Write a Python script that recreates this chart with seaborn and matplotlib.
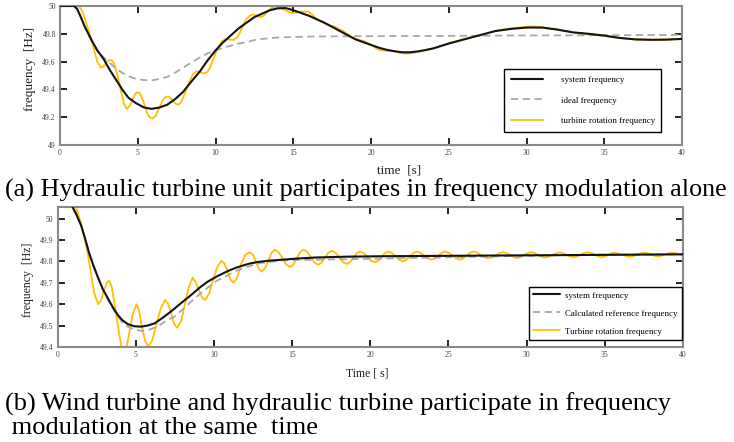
import matplotlib
matplotlib.use("Agg")
import matplotlib.pyplot as plt
import seaborn as sns
from matplotlib.ticker import FuncFormatter

# ---- panel (a): hydraulic turbine alone ----
t_sys_a = [0, 0.9, 1.1, 1.3, 1.6, 2.0, 2.4, 2.8, 3.2, 3.6, 4.0, 4.4, 4.9, 5.4, 5.9, 6.4, 6.9,
           7.4, 7.9, 8.4, 9.0, 9.5, 10.0, 10.5, 11.0, 11.5, 12.0, 12.5, 13.0, 13.5, 14.0, 14.5,
           15.0, 15.5, 16.0, 16.5, 17.0, 17.5, 18.0, 18.5, 19.0, 19.5, 20.0, 20.5, 21.0, 21.5,
           22.0, 22.5, 23.0, 23.5, 24.0, 25.0, 26.0, 27.0, 28.0, 29.0, 30.0, 31.0, 32.0, 33.0,
           34.0, 35.0, 36.0, 37.0, 38.0, 39.0, 40.0]
f_sys_a = [50, 50, 49.98, 49.93, 49.85, 49.76, 49.68, 49.62, 49.54, 49.47, 49.40, 49.34, 49.30,
           49.27, 49.26, 49.27, 49.29, 49.33, 49.38, 49.45, 49.53, 49.61, 49.68, 49.74, 49.79,
           49.84, 49.88, 49.92, 49.945, 49.97, 49.983, 49.985, 49.97, 49.95, 49.93, 49.905,
           49.88, 49.85, 49.82, 49.79, 49.76, 49.74, 49.72, 49.70, 49.685, 49.675, 49.667,
           49.667, 49.673, 49.683, 49.695, 49.73, 49.76, 49.79, 49.82, 49.835, 49.845, 49.845,
           49.83, 49.81, 49.80, 49.787, 49.77, 49.76, 49.757, 49.758, 49.763]

t_ideal_a = [0, 0.9, 1.1, 1.3, 1.6, 2.0, 2.4, 2.8, 3.2, 3.6, 4.0, 4.4, 4.9, 5.4, 5.9, 6.4, 6.9,
             7.4, 7.9, 8.4, 9.0, 9.5, 10.0, 10.5, 11.0, 11.5, 12.0, 12.5, 13.0, 14.0, 15.0,
             16.0, 18.0, 20.0, 25.0, 30.0, 35.0, 40.0]
f_ideal_a = [50, 50, 49.98, 49.93, 49.85, 49.76, 49.68, 49.63, 49.59, 49.55, 49.52, 49.495,
             49.475, 49.467, 49.465, 49.475, 49.49, 49.52, 49.555, 49.59, 49.63, 49.66, 49.68,
             49.70, 49.715, 49.73, 49.74, 49.755, 49.763, 49.773, 49.777, 49.78, 49.782,
             49.783, 49.785, 49.788, 49.79, 49.792]

t_turb_a = [0, 0.5, 1.0, 1.2, 1.4, 1.6, 1.8, 2.0, 2.2, 2.4, 2.62, 2.8, 3.0, 3.15, 3.32, 3.5, 3.7,
            3.9, 4.1, 4.29, 4.5, 4.75, 4.9, 5.04, 5.2, 5.4, 5.6, 5.8, 5.96, 6.15, 6.4, 6.6, 6.8,
            6.97, 7.15, 7.4, 7.61, 7.8, 8.05, 8.3, 8.55, 8.79, 9.0, 9.2, 9.43, 9.65, 9.9, 10.15,
            10.4, 10.6, 10.85, 11.15, 11.4, 11.7, 11.95, 12.2, 12.43, 12.65, 12.9, 13.1, 13.4,
            13.65, 13.9, 14.15, 14.45, 14.75, 15.0, 15.3, 15.6, 15.97, 16.2, 16.5, 16.8, 17.2,
            17.7, 18.2, 18.7, 19.1, 19.5, 20.0, 20.5, 21.0, 21.4, 21.9, 22.3, 22.8, 23.4, 24.2,
            25.1, 26.0, 27.0, 28.0, 29.0, 30.0, 30.5, 31.0, 32.0, 33.0, 34.0, 35.0, 36.0, 37.0,
            38.0, 39.0, 40.0]
f_turb_a = [50, 50, 50, 50, 49.97, 49.91, 49.84, 49.77, 49.68, 49.60, 49.556, 49.565, 49.595,
            49.61, 49.61, 49.58, 49.50, 49.40, 49.30, 49.26, 49.285, 49.35, 49.375, 49.38, 49.36,
            49.30, 49.23, 49.195, 49.19, 49.21, 49.27, 49.32, 49.345, 49.35, 49.335, 49.30,
            49.29, 49.31, 49.375, 49.45, 49.51, 49.53, 49.525, 49.515, 49.52, 49.555, 49.63,
            49.70, 49.745, 49.76, 49.76, 49.755, 49.775, 49.84, 49.90, 49.93, 49.94, 49.93,
            49.92, 49.93, 49.965, 49.99, 49.998, 49.99, 49.97, 49.955, 49.95, 49.955, 49.96,
            49.96, 49.94, 49.905, 49.887, 49.865, 49.85, 49.82, 49.78, 49.76, 49.75, 49.72,
            49.685, 49.677, 49.675, 49.662, 49.656, 49.665, 49.68, 49.70, 49.735, 49.763, 49.79,
            49.82, 49.84, 49.85, 49.852, 49.847, 49.83, 49.81, 49.797, 49.785, 49.77, 49.758,
            49.755, 49.758, 49.765]

# ---- panel (b): wind + hydraulic turbine together ----
t_sys_b = [0, 0.5, 0.96, 1.2, 1.5, 1.75, 2.03, 2.3, 2.56, 2.9, 3.2, 3.5, 3.85, 4.15, 4.49, 4.9,
           5.34, 5.75, 6.2, 6.7, 7.26, 7.9, 8.55, 9.05, 9.6, 10.2, 10.9, 11.4, 11.97, 12.3,
           12.8, 13.5, 14.4, 15.5, 16.5, 18.5, 20.8, 27.2, 34.0, 40.0]
f_sys_b = [50.25, 50.15, 50.054, 50.02, 49.97, 49.91, 49.837, 49.78, 49.73, 49.67, 49.63,
           49.59, 49.55, 49.525, 49.507, 49.497, 49.495, 49.50, 49.51, 49.535, 49.566, 49.605,
           49.643, 49.675, 49.705, 49.73, 49.755, 49.77, 49.783, 49.79, 49.797, 49.803, 49.808,
           49.814, 49.818, 49.822, 49.824, 49.827, 49.83, 49.833]

t_ref_b = [0, 0.5, 0.96, 1.2, 1.5, 1.75, 2.03, 2.3, 2.56, 2.9, 3.2, 3.5, 3.85, 4.15, 4.49, 4.9,
           5.34, 5.75, 6.4, 6.9, 7.5, 8.0, 8.55, 9.05, 9.6, 10.2, 10.9, 11.4, 11.97, 12.8,
           14.4, 20.0, 27.0, 33.0, 40.0]
f_ref_b = [50.25, 50.15, 50.054, 50.02, 49.97, 49.91, 49.837, 49.78, 49.73, 49.67, 49.625,
           49.585, 49.545, 49.515, 49.495, 49.482, 49.476, 49.478, 49.496, 49.52, 49.543,
           49.575, 49.612, 49.645, 49.677, 49.71, 49.736, 49.755, 49.77, 49.79, 49.805,
           49.812, 49.822, 49.83, 49.833]

t_turb_b = [0, 0.6, 1.0, 1.2, 1.45, 1.7, 1.95, 2.15, 2.35, 2.6, 2.8, 3.0, 3.15, 3.31, 3.47, 3.63,
            3.8, 3.95, 4.1, 4.25, 4.45, 4.6, 4.8, 5.04, 5.2, 5.38, 5.6, 5.81, 6.05, 6.35, 6.6,
            6.88, 7.08, 7.26, 7.45, 7.65, 7.9, 8.15, 8.4, 8.65, 8.85, 9.05, 9.25, 9.44, 9.7,
            9.95, 10.2, 10.47, 10.67, 10.87, 11.06, 11.26, 11.5, 11.75, 12.0, 12.3, 12.5, 12.68,
            12.87, 13.06, 13.27, 13.48, 13.69, 13.9, 14.14, 14.39, 14.63, 14.87, 15.08, 15.3,
            15.51, 15.72, 15.96, 16.2, 16.44, 16.68, 16.89, 17.1, 17.32, 17.53, 17.77, 18.01,
            18.25, 18.49, 18.7, 18.92, 19.13, 19.34, 19.58, 19.82, 20.06, 20.3, 20.51, 20.72,
            20.94, 21.15, 21.39, 21.62, 21.86, 22.1, 22.32, 22.53, 22.75, 22.97, 23.21, 23.45,
            23.69, 23.93, 24.14, 24.35, 24.57, 24.78, 25.02, 25.26, 25.5, 25.74, 25.95, 26.16,
            26.38, 26.59, 26.83, 27.07, 27.31, 27.55, 27.79, 28.03, 28.26, 28.5, 28.72, 28.94,
            29.16, 29.38, 29.61, 29.84, 30.07, 30.3, 30.52, 30.74, 30.95, 31.17, 31.4, 31.64,
            31.87, 32.1, 32.32, 32.54, 32.76, 32.98, 33.21, 33.44, 33.67, 33.9, 34.13, 34.35,
            34.58, 34.8, 35.0, 35.2, 35.4, 35.6, 35.85, 36.1, 36.35, 36.6, 36.83, 37.05, 37.28,
            37.5, 37.73, 37.95, 38.18, 38.4, 38.63, 38.85, 39.08, 39.3, 39.53, 39.75, 40.0]
f_turb_b = [50.3, 50.25, 50.1, 50.05, 49.99, 49.92, 49.83, 49.74, 49.65, 49.60, 49.62, 49.67,
            49.70, 49.71, 49.68, 49.61, 49.53, 49.46, 49.40, 49.37, 49.41, 49.47, 49.55, 49.60,
            49.575, 49.50, 49.43, 49.40, 49.43, 49.51, 49.58, 49.62, 49.60, 49.56, 49.51, 49.49,
            49.52, 49.60, 49.68, 49.724, 49.70, 49.665, 49.63, 49.62, 49.65, 49.713, 49.77,
            49.803, 49.79, 49.755, 49.715, 49.70, 49.725, 49.79, 49.83, 49.843, 49.83, 49.80,
            49.765, 49.752, 49.767, 49.8035, 49.84, 49.855, 49.843, 49.814, 49.785, 49.773,
            49.785, 49.814, 49.843, 49.855, 49.845, 49.82, 49.794, 49.784, 49.794, 49.817,
            49.84, 49.85, 49.841, 49.819, 49.797, 49.788, 49.796, 49.817, 49.838, 49.846,
            49.839, 49.821, 49.803, 49.796, 49.803, 49.821, 49.839, 49.846, 49.839, 49.823,
            49.807, 49.80, 49.807, 49.823, 49.839, 49.846, 49.84, 49.827, 49.814, 49.808,
            49.814, 49.827, 49.84, 49.846, 49.84, 49.827, 49.814, 49.808, 49.814, 49.827,
            49.84, 49.846, 49.841, 49.83, 49.82, 49.815, 49.819, 49.829, 49.839, 49.843,
            49.839, 49.83, 49.82, 49.816, 49.82, 49.83, 49.839, 49.843, 49.839, 49.83, 49.822,
            49.818, 49.822, 49.83, 49.838, 49.842, 49.839, 49.831, 49.823, 49.82, 49.823,
            49.831, 49.839, 49.842, 49.839, 49.831, 49.823, 49.82, 49.823, 49.83, 49.837,
            49.84, 49.837, 49.831, 49.825, 49.822, 49.825, 49.831, 49.837, 49.84, 49.838,
            49.832, 49.826, 49.824, 49.826, 49.832, 49.838, 49.84, 49.838, 49.833, 49.827]

x_ticks = [0, 5, 10, 15, 20, 25, 30, 35, 40]
y_ticks_a = [49, 49.2, 49.4, 49.6, 49.8, 50]
y_ticks_b = [49.4, 49.5, 49.6, 49.7, 49.8, 49.9, 50]

labels_a = ["system frequency", "ideal frequency", "turbine rotation frequency"]
labels_b = ["system frequency", "Calculated reference frequency", "Turbine rotation frequency"]
caption_a = "(a) Hydraulic turbine unit participates in frequency modulation alone"
caption_b1 = "(b) Wind turbine and hydraulic turbine participate in frequency"
caption_b2 = " modulation at the same  time"

BLACK = "#141414"
GREY = "#a8a8a8"
GOLD = "#ffc000"

sns.set_style("ticks")
plt.rcParams["font.family"] = ["Liberation Serif", "DejaVu Serif"]
plt.rcParams["text.color"] = "black"
plt.rcParams["axes.labelcolor"] = "#222222"

fig = plt.figure(figsize=(7.34, 4.42), dpi=100)
ax1 = fig.add_axes([60 / 734, 1 - 145 / 442, 622 / 734, 139 / 442])
ax2 = fig.add_axes([57.5 / 734, 1 - 347 / 442, 625.5 / 734, 140 / 442])


def draw(ax, ts, fs, ti, fi, tt, ft, labels):
    sns.lineplot(x=tt, y=ft, ax=ax, color=GOLD, linewidth=1.3, estimator=None,
                 label=labels[2], zorder=2)
    sns.lineplot(x=ti, y=fi, ax=ax, color=GREY, linewidth=1.3, linestyle=(0, (4, 2.5)),
                 estimator=None, label=labels[1], zorder=3)
    sns.lineplot(x=ts, y=fs, ax=ax, color=BLACK, linewidth=1.5, estimator=None,
                 label=labels[0], zorder=4)


draw(ax1, t_sys_a, f_sys_a, t_ideal_a, f_ideal_a, t_turb_a, f_turb_a, labels_a)
draw(ax2, t_sys_b, f_sys_b, t_ref_b, f_ref_b, t_turb_b, f_turb_b, labels_b)

fmt = FuncFormatter(lambda v, p: "%g" % round(v, 2))
for ax, yt in [(ax1, y_ticks_a), (ax2, y_ticks_b)]:
    ax.set_xlim(0, 40)
    ax.set_xticks(x_ticks)
    ax.set_yticks(yt)
    ax.xaxis.set_major_formatter(fmt)
    ax.yaxis.set_major_formatter(fmt)
    ax.tick_params(direction="in", length=5, width=1.2, color="black", labelsize=5.5,
                   labelcolor="#444444", top=True, right=True, pad=3)
    for s in ax.spines.values():
        s.set_color("#8a8a8a")
        s.set_linewidth(1.5)
ax1.set_ylim(49, 50)
ax2.set_ylim(49.4, 50.054)

ax1.set_xlabel("time  [s]", fontsize=9.5)
ax1.xaxis.set_label_coords(0.545, -0.14)
ax1.set_ylabel("frequency  [Hz]", fontsize=9.5)
ax1.yaxis.set_label_coords(-0.039, 0.55)
ax2.set_xlabel("Time [ s]", fontsize=8.5)
ax2.xaxis.set_label_coords(0.496, -0.15)
ax2.set_ylabel("frequency  [Hz]", fontsize=8.5)
ax2.yaxis.set_label_coords(-0.038, 0.48)

h, l = ax1.get_legend_handles_labels()
ax1.legend(h[::-1], l[::-1], loc="upper left", bbox_to_anchor=(0.714, 0.547), borderaxespad=0,
           fontsize=6.4, frameon=True, fancybox=False, edgecolor="black", framealpha=1,
           handlelength=3.6, handletextpad=2.0, labelspacing=1.4, borderpad=0.75)
ax1.get_legend().get_frame().set_linewidth(1.0)
h, l = ax2.get_legend_handles_labels()
ax2.legend(h[::-1], l[::-1], loc="lower right", bbox_to_anchor=(0.998, 0.05), borderaxespad=0,
           fontsize=6.4, frameon=True, fancybox=False, edgecolor="black", framealpha=1,
           handlelength=3.0, handletextpad=0.55, labelspacing=1.1, borderpad=0.5)
ax2.get_legend().get_frame().set_linewidth(1.0)

fig.text(0.007, 1 - 190 / 442, caption_a, fontsize=18.8, ha="left", va="center")
fig.text(0.007, 1 - 404 / 442, caption_b1, fontsize=19, ha="left", va="center")
fig.text(0.007, 1 - 428 / 442, caption_b2, fontsize=19, ha="left", va="center")

fig.savefig("out.png", dpi=100)
